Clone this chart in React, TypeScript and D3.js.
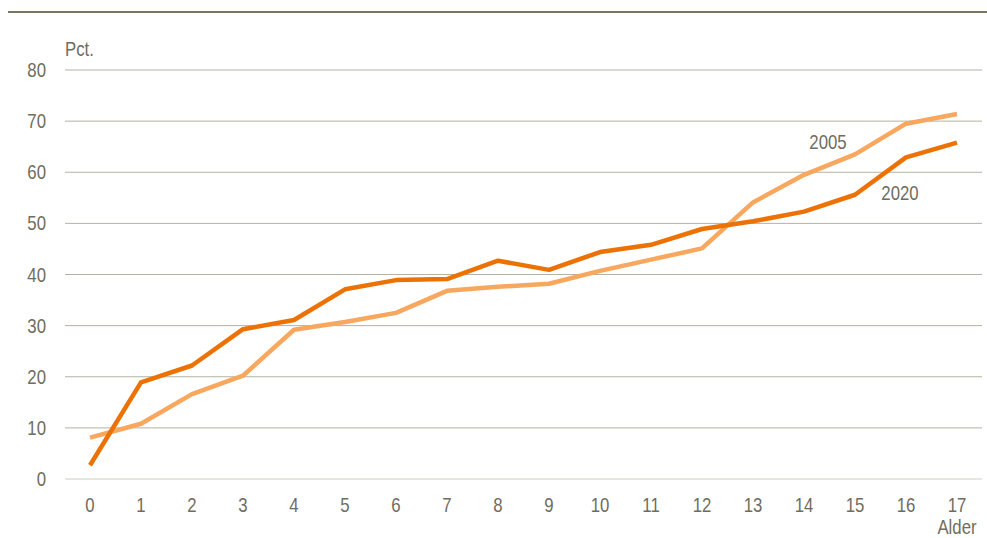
import * as d3 from "d3";

// Andel (pct.) efter alder, 0-17 år
const ages = [0, 1, 2, 3, 4, 5, 6, 7, 8, 9, 10, 11, 12, 13, 14, 15, 16, 17];
const values2005 = [8.1, 10.8, 16.6, 20.2, 29.2, 30.7, 32.5, 36.8, 37.6, 38.2, 40.7, 42.9, 45.1, 54.1, 59.5, 63.5, 69.5, 71.4];
const values2020 = [2.7, 18.9, 22.2, 29.3, 31.1, 37.1, 38.9, 39.1, 42.7, 40.9, 44.4, 45.8, 48.9, 50.4, 52.3, 55.6, 62.9, 65.8];
const yTicks = [0, 10, 20, 30, 40, 50, 60, 70, 80];

const W = 987, H = 538;
const FONT = "'Liberation Sans', Arial, sans-serif";
const TEXT = "#6e6d5e";

// condensed text, like Arial Narrow in the original
function Label({ x, y, anchor = "start", children }: { x: number; y: number; anchor?: string; children: any }) {
  return (
    <text transform={`translate(${x},${y}) scale(0.84,1)`} dy="0.35em" textAnchor={anchor}
      fontFamily={FONT} fontSize={20} fill={TEXT}>{children}</text>
  );
}

export default function App() {
  const x = d3.scaleLinear().domain([0, 17]).range([90, 957]);
  const y = d3.scaleLinear().domain([0, 80]).range([479, 70]);

  const line = d3.line<number>()
    .x((_, i) => x(ages[i]))
    .y(d => y(d));

  return (
    <svg width={W} height={H} style={{ position: "absolute", left: 0, top: 0, background: "#fff" }}>
      <line x1={8} x2={987} y1={12} y2={12} stroke="#77765f" strokeWidth={2} />

      {yTicks.map(t => (
        <g key={t}>
          <line x1={65} x2={982} y1={y(t)} y2={y(t)} stroke={t === 0 ? "#cfcfc4" : "#b3b2a3"} strokeWidth={1} />
          <Label x={46} y={y(t)} anchor="end">{t}</Label>
        </g>
      ))}

      {ages.map(a => (
        <Label key={a} x={x(a)} y={505} anchor="middle">{a}</Label>
      ))}

      <Label x={65} y={49}>Pct.</Label>
      <Label x={957} y={527} anchor="middle">Alder</Label>

      <path d={line(values2005) ?? ""} fill="none" stroke="#f8a75e" strokeWidth={4.5} strokeLinejoin="round" />
      <path d={line(values2020) ?? ""} fill="none" stroke="#ec7206" strokeWidth={4.5} strokeLinejoin="round" />

      <Label x={828} y={142} anchor="middle">2005</Label>
      <Label x={900} y={193} anchor="middle">2020</Label>
    </svg>
  );
}
